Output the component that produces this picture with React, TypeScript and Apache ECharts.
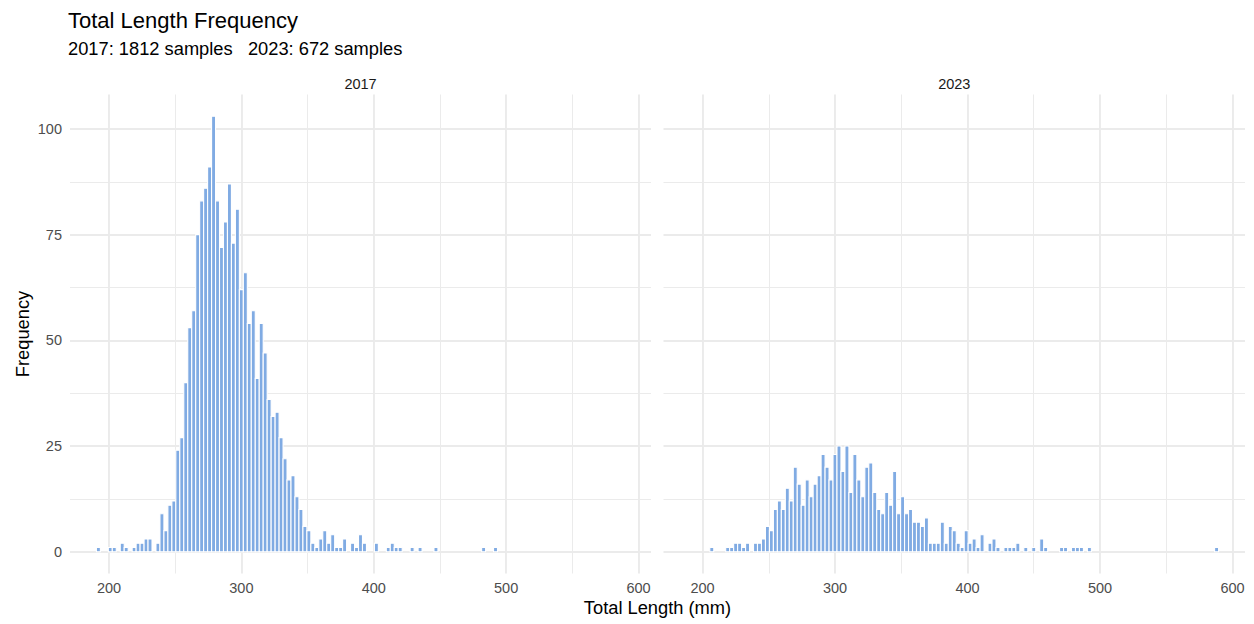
import React, { useEffect, useRef } from "react";
import * as echarts from "echarts";

// Histogram bins: centre of first bin (mm) and bin width (mm)
const binStart = 192;
const binWidth = 3;

// Counts per bin, 2017 (bin k centre = binStart + k * binWidth)
const counts2017 = [
  1, 0, 0, 1, 1, 0, 2, 1, 0, 1,
  2, 2, 3, 3, 0, 2, 9, 5, 11, 12,
  24, 27, 40, 53, 57, 75, 83, 86, 91, 103,
  83, 72, 78, 87, 73, 81, 62, 66, 54, 57,
  41, 54, 47, 36, 32, 33, 27, 22, 17, 18,
  13, 10, 6, 5, 2, 1, 3, 5, 2, 4,
  1, 1, 3, 0, 2, 1, 4, 2, 0, 0,
  2, 0, 0, 1, 2, 1, 1, 0, 0, 1,
  0, 1, 0, 0, 0, 1, 0, 0, 0, 0,
  0, 0, 0, 0, 0, 0, 0, 1, 0, 0,
  1,
];

// Counts per bin, 2023
const counts2023 = [
  0, 0, 0, 0, 0, 1, 0, 0, 0, 1,
  1, 2, 2, 1, 2, 0, 2, 2, 3, 6,
  5, 10, 12, 10, 15, 12, 20, 16, 11, 17,
  13, 16, 18, 23, 20, 17, 23, 25, 19, 25,
  14, 23, 17, 13, 20, 21, 14, 10, 9, 14,
  11, 19, 9, 13, 9, 10, 7, 7, 6, 8,
  2, 2, 2, 7, 2, 6, 5, 2, 1, 5,
  2, 3, 1, 4, 0, 2, 3, 1, 0, 1,
  1, 1, 2, 0, 1, 0, 1, 0, 3, 1,
  0, 0, 0, 1, 1, 0, 1, 1, 1, 0,
  1, 0, 0, 0, 0, 0, 0, 0, 0, 0,
  0, 0, 0, 0, 0, 0, 0, 0, 0, 0,
  0, 0, 0, 0, 0, 0, 0, 0, 0, 0,
  0, 0, 1,
];

const panels = ["2017", "2023"];
const titleText = "Total Length Frequency";
const subtitleText = "2017: 1812 samples   2023: 672 samples";
const xTitle = "Total Length (mm)";
const yTitle = "Frequency";

const xMin = 170.55;
const xMax = 609.45;
const yMin = -5.15;
const yMax = 108.15;

const FONT = "'Liberation Sans', Arial, Helvetica, sans-serif";
const BAR_FILL = "#80ABE3";

function toData(counts: number[]) {
  const out: number[][] = [];
  counts.forEach((c, k) => {
    if (c > 0) out.push([binStart + k * binWidth, c]);
  });
  return out;
}

export default function App() {
  const ref = useRef<HTMLDivElement>(null);
  useEffect(() => {
    if (!ref.current) return;
    const chart = echarts.init(ref.current, undefined, { renderer: "svg" });

    const grids = [
      { left: 70, top: 94.5, width: 581, height: 479 },
      { left: 663.5, top: 94.5, width: 581.5, height: 479 },
    ];

    const gridLine = { color: "#EBEBEB", width: 1.9 };
    const minorLine = { color: "#EBEBEB", width: 1.0 };

    const xAxes = grids.map((_, i) => ({
      type: "value",
      gridIndex: i,
      min: xMin,
      max: xMax,
      minInterval: 100,
      maxInterval: 100,
      axisLine: { show: false },
      axisTick: { show: false },
      minorTick: { show: false, splitNumber: 2 },
      axisLabel: {
        color: "#4D4D4D",
        fontSize: 14.5,
        fontFamily: FONT,
        margin: 7,
        formatter: (v: number) => (Math.abs(v % 100) < 1e-6 ? String(v) : ""),
      },
      splitLine: { show: true, showMinLine: false, showMaxLine: false, lineStyle: gridLine },
      minorSplitLine: { show: true, lineStyle: minorLine },
    }));

    const yAxes = grids.map((_, i) => ({
      type: "value",
      gridIndex: i,
      min: yMin,
      max: yMax,
      minInterval: 25,
      maxInterval: 25,
      axisLine: { show: false },
      axisTick: { show: false },
      minorTick: { show: false, splitNumber: 2 },
      axisLabel: {
        show: i === 0,
        color: "#4D4D4D",
        fontSize: 14.5,
        fontFamily: FONT,
        margin: 8,
        formatter: (v: number) => (Math.abs(v % 25) < 1e-6 ? String(v) : ""),
      },
      splitLine: { show: true, showMinLine: false, showMaxLine: false, lineStyle: gridLine },
      minorSplitLine: { show: true, lineStyle: minorLine },
    }));

    const makeSeries = (counts: number[], i: number) => ({
      type: "custom",
      xAxisIndex: i,
      yAxisIndex: i,
      encode: { x: 0, y: 1 },
      data: toData(counts),
      renderItem: (params: any, api: any) => {
        const c = api.value(0);
        const v = api.value(1);
        const p0 = api.coord([c - binWidth / 2, v]);
        const p1 = api.coord([c + binWidth / 2, 0]);
        return {
          type: "rect",
          shape: { x: p0[0], y: p0[1], width: p1[0] - p0[0], height: p1[1] - p0[1] },
          style: { fill: BAR_FILL, stroke: "#FFFFFF", lineWidth: 1.1 },
        };
      },
    });

    const option = {
      animation: false,
      backgroundColor: "#FFFFFF",
      grid: grids,
      xAxis: xAxes,
      yAxis: yAxes,
      series: [makeSeries(counts2017, 0), makeSeries(counts2023, 1)],
      graphic: [
        {
          type: "text",
          x: 68,
          y: 20,
          style: { text: titleText, font: `22px ${FONT}`, fill: "#000000", textVerticalAlign: "middle" },
        },
        {
          type: "text",
          x: 68,
          y: 48,
          style: { text: subtitleText, font: `18.3px ${FONT}`, fill: "#000000", textVerticalAlign: "middle" },
        },
        {
          type: "text",
          x: 70 + 581 / 2,
          y: 84,
          style: { text: panels[0], font: `14.5px ${FONT}`, fill: "#1A1A1A", textAlign: "center", textVerticalAlign: "middle" },
        },
        {
          type: "text",
          x: 663.5 + 581.5 / 2,
          y: 84,
          style: { text: panels[1], font: `14.5px ${FONT}`, fill: "#1A1A1A", textAlign: "center", textVerticalAlign: "middle" },
        },
        {
          type: "text",
          x: 657.5,
          y: 607,
          style: { text: xTitle, font: `18.3px ${FONT}`, fill: "#000000", textAlign: "center", textVerticalAlign: "middle" },
        },
        {
          type: "text",
          x: 22,
          y: 334,
          rotation: Math.PI / 2,
          style: { text: yTitle, font: `18.3px ${FONT}`, fill: "#000000", textAlign: "center", textVerticalAlign: "middle" },
        },
      ],
    };

    chart.setOption(option as any);
    return () => chart.dispose();
  }, []);

  return (
    <div
      ref={ref}
      style={{ position: "absolute", left: 0, top: 0, width: 1254, height: 624, background: "#fff" }}
    />
  );
}
